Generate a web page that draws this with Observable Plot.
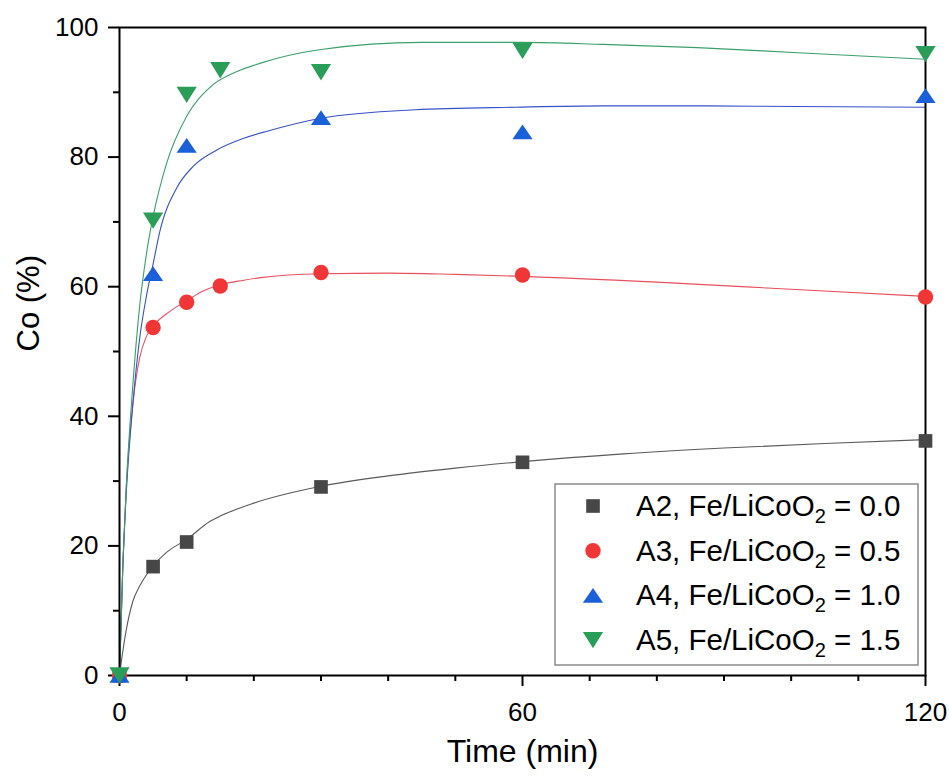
<!DOCTYPE html>
<html><head><meta charset="utf-8">
<script src="https://cdn.jsdelivr.net/npm/d3@7"></script>
<script src="https://cdn.jsdelivr.net/npm/@observablehq/plot@0.6"></script>
<style>
body{margin:0;background:#fff;}
svg{font-family:"Liberation Sans", Arial, sans-serif;}
</style>
</head><body><div id="chart"></div>
<script>
// ---- data ----
const seriesNames = ["A2", "A3", "A4", "A5"];
const ratioLabels = ["0.0", "0.5", "1.0", "1.5"];

const a2Time = [0, 5, 10, 30, 60, 120];
const a2Co   = [0, 16.8, 20.6, 29.1, 32.9, 36.2];
const a3Time = [0, 5, 10, 15, 30, 60, 120];
const a3Co   = [0, 53.7, 57.6, 60.1, 62.2, 61.8, 58.4];
const a4Time = [0, 5, 10, 30, 60, 120];
const a4Co   = [0, 62.0, 81.8, 86.1, 83.9, 89.5];
const a5Time = [0, 5, 10, 15, 30, 60, 120];
const a5Co   = [0, 70.2, 89.6, 93.4, 93.1, 96.4, 95.9];

// fitted curves
const fitA2Time = [0, 0.5, 1, 2, 3, 4, 5, 7, 10, 13.5, 15, 20, 30, 40, 50, 60, 75, 90, 105, 120];
const fitA2Co   = [0, 3.8, 7, 11.5, 13.8, 15.5, 16.9, 19, 21, 23.8, 24.6, 26.6, 29.2, 30.8, 32, 33, 34.2, 35.1, 35.8, 36.4];
const fitA3Time = [0, 0.5, 1, 2, 3, 4, 5, 7.5, 10, 12, 15, 18.5, 21, 30, 40, 50, 60, 80, 100, 120];
const fitA3Co   = [0, 17, 29, 42, 49, 52.3, 53.9, 56.2, 57.8, 59.1, 60.3, 61, 61.4, 62, 62.1, 61.9, 61.6, 60.7, 59.6, 58.5];
const fitA4Time = [0, 0.5, 1, 2, 3, 4, 5, 6, 8.5, 11, 14.5, 18.5, 22, 30, 44, 59, 72, 86, 101, 120];
const fitA4Co   = [0, 17, 28, 42, 52, 58.5, 63.5, 68.5, 75.2, 78.6, 81.1, 82.9, 84, 86, 87.3, 87.7, 87.9, 87.9, 87.8, 87.7];
const fitA5Time = [0, 0.5, 1, 2, 3, 4, 5, 7, 10, 13.5, 17.5, 21, 30, 45, 60, 72, 86, 101, 120];
const fitA5Co   = [0, 17, 29, 45, 57, 65, 70.8, 79, 86.3, 90.8, 93.2, 94.5, 96.6, 97.7, 97.7, 97.4, 96.9, 96.1, 95.1];

const xMajorTicks = [0, 60, 120];
const xMinorTicks = [10, 20, 30, 40, 50, 70, 80, 90, 100, 110];
const yMajorTicks = [0, 20, 40, 60, 80, 100];
const yMinorTicks = [10, 30, 50, 70, 90];

// ---- styles ----
const markerColors = ["#474747", "#f03636", "#1b5fd9", "#2a9e58"];
const lineColors = ["#5a5a5a", "#e8505e", "#3552c8", "#3aa06a"];

const triUp = {draw(ctx, size) {
  const s = Math.sqrt(size), w = s * 0.74, h = s * 0.54;
  ctx.moveTo(0, -h); ctx.lineTo(w, h); ctx.lineTo(-w, h); ctx.closePath();
}};
const triDown = {draw(ctx, size) {
  const s = Math.sqrt(size), w = s * 0.74, h = s * 0.6;
  ctx.moveTo(0, h); ctx.lineTo(w, -h); ctx.lineTo(-w, -h); ctx.closePath();
}};
const symbols = [d3.symbolSquare, d3.symbolCircle, triUp, triDown];
const R = 7.7;

const zip = (t, v) => t.map((d, i) => ({t: d, v: v[i]}));
const pts = [zip(a2Time, a2Co), zip(a3Time, a3Co), zip(a4Time, a4Co), zip(a5Time, a5Co)];
const fits = [zip(fitA2Time, fitA2Co), zip(fitA3Time, fitA3Co), zip(fitA4Time, fitA4Co), zip(fitA5Time, fitA5Co)];

const marks = [];
fits.forEach((f, i) => marks.push(Plot.line(f, {x: "t", y: "v", stroke: lineColors[i], strokeWidth: 1.1, curve: "monotone-x"})));
marks.push(Plot.frame({stroke: "black", strokeWidth: 2}));
marks.push(Plot.axisX(xMajorTicks, {tickSize: 11, tickPadding: 16, fontSize: 26, strokeWidth: 2, label: null}));
marks.push(Plot.axisX(xMinorTicks, {tickSize: 6, strokeWidth: 2, tickFormat: () => "", label: null}));
marks.push(Plot.axisY(yMajorTicks, {tickSize: 11, tickPadding: 10, fontSize: 26, strokeWidth: 2, label: null}));
marks.push(Plot.axisY(yMinorTicks, {tickSize: 6, strokeWidth: 2, tickFormat: () => "", label: null}));
pts.forEach((p, i) => marks.push(Plot.dot(p, {x: "t", y: "v", r: R, symbol: symbols[i], fill: markerColors[i], stroke: "none"})));
marks.push(Plot.text(["Time (min)"], {frameAnchor: "bottom", dy: 86, fontSize: 32, fill: "black"}));
marks.push(Plot.text(["Co (%)"], {frameAnchor: "left", dx: -90, rotate: -90, fontSize: 31, fill: "black"}));

const chart = Plot.plot({
  width: 949, height: 776,
  marginLeft: 119, marginRight: 24, marginTop: 27, marginBottom: 101,
  x: {domain: [0, 120]},
  y: {domain: [0, 100]},
  style: {fontFamily: '"Liberation Sans", Arial, sans-serif', background: "white", color: "black"},
  marks
});
document.getElementById("chart").appendChild(chart);

// ---- legend ----
const svg = d3.select(chart);
const lg = svg.append("g").attr("text-anchor", "start");
lg.append("rect").attr("x", 555).attr("y", 484).attr("width", 363).attr("height", 181)
  .attr("fill", "white").attr("stroke", "#8a8a8a").attr("stroke-width", 1.5);
seriesNames.forEach((name, i) => {
  const cy = 506 + i * 44.7;
  lg.append("path")
    .attr("transform", `translate(593,${cy})`)
    .attr("d", d3.symbol().type(symbols[i]).size(Math.PI * R * R)())
    .attr("fill", markerColors[i]);
  const t = lg.append("text").attr("x", 636).attr("y", cy + 10)
    .attr("text-anchor", "start")
    .attr("font-size", 29.5).attr("fill", "black");
  t.append("tspan").text(`${name}, Fe/LiCoO`);
  t.append("tspan").attr("font-size", 20).attr("dy", 7).text("2");
  t.append("tspan").attr("dy", -7).text(` = ${ratioLabels[i]}`);
});
</script>
</body></html>
